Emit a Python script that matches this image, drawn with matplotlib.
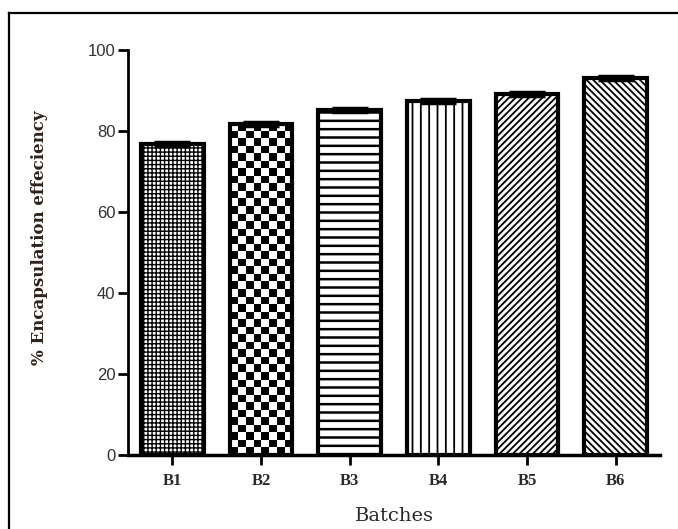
import matplotlib
matplotlib.use("Agg")
import matplotlib.pyplot as plt
import numpy as np
from matplotlib.lines import Line2D

categories = ["B1", "B2", "B3", "B4", "B5", "B6"]
values = [76.8, 81.8, 85.3, 87.3, 89.2, 93.2]
errors = [0.5, 0.5, 0.5, 0.5, 0.5, 0.5]
fills = ["++++", "checker", "--", "||", "/////", "\\\\\\\\\\"]
yticks = [0, 20, 40, 60, 80, 100]

W, H = 678, 529
fig = plt.figure(figsize=(W / 100, H / 100), dpi=100)
fig.patch.set_facecolor("white")
plt.rcParams["hatch.linewidth"] = 1.5
plt.rcParams["hatch.color"] = "black"

# outer frame (left and top visible)
fig.add_artist(Line2D([9 / W, 9 / W], [0, 1 - 13 / H], color="black", lw=1.6, transform=fig.transFigure))
fig.add_artist(Line2D([9 / W, 1.0], [1 - 13 / H, 1 - 13 / H], color="black", lw=1.6, transform=fig.transFigure))

ax = fig.add_axes([128 / W, 1 - 455 / H, (660 - 128) / W, (455 - 50) / H])
x = np.arange(len(categories))
XLIM = (-0.5, 5.5)
YLIM = (0, 100)
ax.set_xlim(*XLIM)
ax.set_ylim(*YLIM)

bars = ax.bar(x, values, width=0.71, color="white", edgecolor="black", linewidth=3, zorder=2)
px_x = ax.bbox.width / (XLIM[1] - XLIM[0])
px_y = ax.bbox.height / (YLIM[1] - YLIM[0])
hatch_lw = {"++++": 1.0, "--": 1.8, "||": 1.3, "/////": 1.3, "\\\\\\\\\\": 1.3}
for b, f in zip(bars, fills):
    if f == "checker":
        b.set_facecolor("none")
        x0, w, h = b.get_x(), b.get_width(), b.get_height()
        cell = 7.5
        nc = max(1, int(round(w * px_x / cell)))
        nr = max(1, int(round(h * px_y / cell)))
        arr = (np.add.outer(np.arange(nr), np.arange(nc)) % 2).astype(float)
        im = ax.imshow(arr, extent=(x0, x0 + w, 0, h), cmap="gray", origin="lower",
                       interpolation="nearest", aspect="auto", zorder=1.5)
        im.set_clip_path(b)
    else:
        b.set_hatch(f)
        try:
            b.set_hatch_linewidth(hatch_lw.get(f, 1.5))
        except Exception:
            pass

ax.errorbar(x, values, yerr=errors, fmt="none", ecolor="black", elinewidth=2,
            capsize=13, capthick=2.5, zorder=3)

ax.set_xlim(*XLIM)
ax.set_ylim(*YLIM)
ax.set_yticks(yticks)
ax.set_xticks(x)
ax.set_xticklabels(categories, fontfamily="Liberation Serif", fontweight="bold",
                   fontsize=12, color="#2a2a2a")
for lab in ax.get_yticklabels():
    lab.set_fontfamily("Liberation Sans")
    lab.set_fontsize(12)
    lab.set_color("#333333")
ax.spines["top"].set_visible(False)
ax.spines["right"].set_visible(False)
ax.spines["left"].set_linewidth(2)
ax.spines["bottom"].set_linewidth(2.5)
ax.tick_params(axis="both", direction="out", length=7, width=2, color="black")
ax.tick_params(axis="x", pad=6)
ax.tick_params(axis="y", pad=2)

fig.text(40 / W, 1 - 238 / H, "% Encapsulation effeciency", rotation=90,
         ha="center", va="center", fontfamily="DejaVu Serif", fontweight="bold",
         fontsize=12, color="#2e221a")
fig.text(394 / W, 1 - 516 / H, "Batches", ha="center", va="center",
         fontfamily="DejaVu Serif", fontsize=14, color="#2a2a2a")

fig.savefig("out.png", dpi=100)
